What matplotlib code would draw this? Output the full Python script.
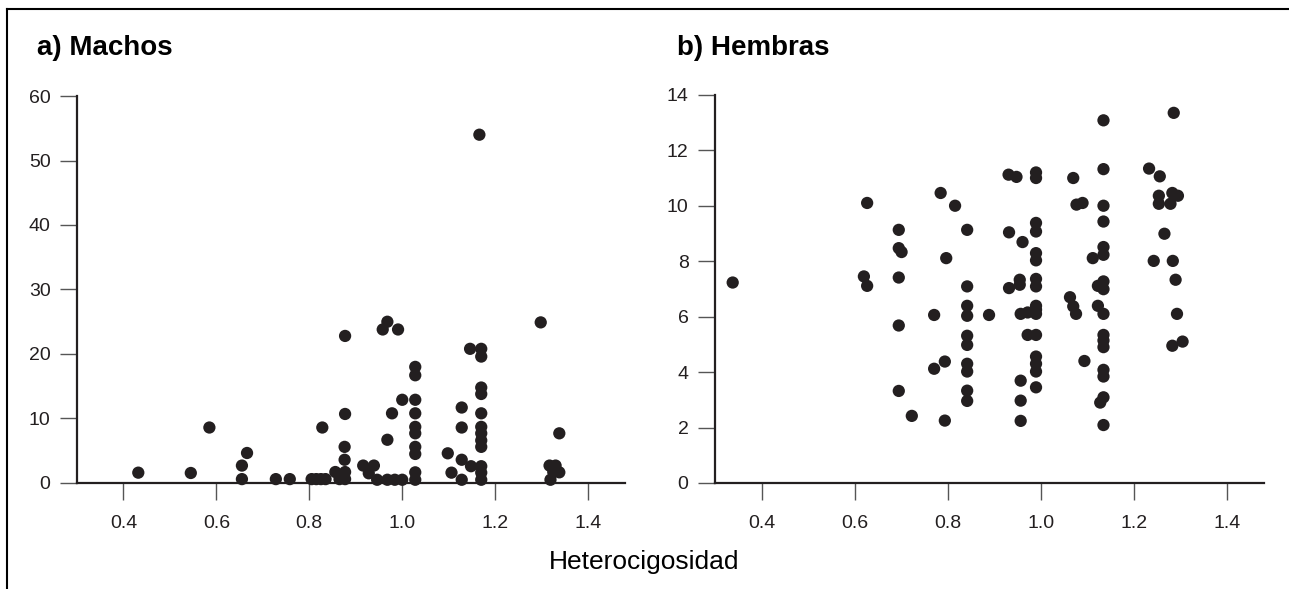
import matplotlib
matplotlib.use("Agg")
import matplotlib.pyplot as plt
from matplotlib.lines import Line2D

plt.rcParams['font.family'] = ['Liberation Sans', 'DejaVu Sans']

# a) Machos: heterocigosidad vs valor
machos_x = [0.432, 0.545, 0.585, 0.655, 0.655, 0.666, 0.728, 0.758,
            0.805, 0.815, 0.825, 0.835, 0.828, 0.856, 0.865, 0.877, 0.877,
            0.876, 0.876, 0.877, 0.877,
            0.916, 0.939, 0.928, 0.946, 0.968, 0.984, 1.000, 0.968, 0.978,
            1.000, 0.958, 0.968, 0.991,
            1.028, 1.028, 1.028, 1.028, 1.028, 1.028, 1.028, 1.028, 1.028, 1.028,
            1.098, 1.106, 1.128, 1.128, 1.128, 1.128, 1.148, 1.146,
            1.170, 1.170, 1.170, 1.170, 1.170, 1.170, 1.170, 1.170, 1.170,
            1.170, 1.170, 1.170, 1.166,
            1.298, 1.338, 1.317, 1.330, 1.338, 1.325, 1.319]
machos_y = [1.6, 1.55, 8.6, 0.6, 2.7, 4.65, 0.6, 0.6,
            0.6, 0.6, 0.6, 0.6, 8.6, 1.7, 0.6, 1.7, 0.6,
            3.6, 5.6, 10.7, 22.8,
            2.7, 2.7, 1.5, 0.5, 0.5, 0.5, 0.5, 6.7, 10.8,
            12.9, 23.8, 25.0, 23.8,
            18.0, 16.7, 12.9, 10.8, 8.7, 7.7, 5.6, 4.5, 1.65, 0.5,
            4.6, 1.6, 11.7, 8.6, 3.6, 0.5, 2.6, 20.8,
            20.8, 19.6, 14.8, 13.8, 10.8, 8.7, 7.7, 6.6, 5.6,
            2.6, 1.6, 0.5, 54.0,
            24.9, 7.7, 2.7, 2.7, 1.65, 1.7, 0.5]

# b) Hembras
hembras_x = [0.338, 0.627, 0.620, 0.627,
             0.695, 0.695, 0.701, 0.695, 0.695, 0.695, 0.723,
             0.785, 0.816, 0.797, 0.771, 0.771, 0.794, 0.794,
             0.842, 0.842, 0.842, 0.842, 0.842, 0.842, 0.842, 0.842, 0.842, 0.842,
             0.889,
             0.931, 0.948, 0.932, 0.932, 0.961, 0.955, 0.955, 0.957, 0.972,
             0.972, 0.957, 0.957, 0.957,
             0.990, 0.990, 0.990, 0.990, 0.990, 0.990, 0.990, 0.990, 0.990,
             0.990, 0.990, 0.990, 0.990, 0.990, 0.990, 0.990,
             1.070, 1.077, 1.090, 1.063, 1.070, 1.076, 1.094,
             1.135, 1.135, 1.135, 1.135, 1.135, 1.135, 1.112, 1.123, 1.135, 1.135,
             1.123, 1.135, 1.135, 1.135, 1.135, 1.135, 1.135, 1.135, 1.128, 1.135,
             1.233, 1.256, 1.254, 1.254, 1.279, 1.283, 1.295, 1.286, 1.266,
             1.243, 1.284, 1.290, 1.293, 1.283, 1.305]
hembras_y = [7.23, 10.1, 7.45, 7.11,
             9.13, 8.47, 8.33, 7.41, 5.68, 3.32, 2.42,
             10.46, 10.0, 8.11, 6.06, 4.12, 4.38, 2.25,
             9.13, 7.09, 6.39, 6.03, 5.31, 4.98, 4.30, 4.02, 3.33, 2.96,
             6.06,
             11.12, 11.04, 9.04, 7.03, 8.69, 7.33, 7.15, 6.10, 6.15,
             5.34, 3.69, 2.97, 2.24,
             11.2, 11.0, 9.38, 9.07, 8.29, 8.03, 7.36, 7.09, 6.39,
             6.10, 5.34, 4.56, 4.30, 4.02, 3.45, 6.25,
             11.0, 10.04, 10.1, 6.70, 6.37, 6.10, 4.40,
             13.08, 11.32, 10.0, 9.43, 8.51, 8.23, 8.11, 7.11, 7.27, 6.99,
             6.39, 6.10, 5.34, 5.14, 4.90, 4.08, 3.84, 3.09, 2.90, 2.09,
             11.34, 11.06, 10.36, 10.07, 10.07, 10.46, 10.36, 13.35, 8.99,
             8.01, 8.01, 7.33, 6.1, 4.95, 5.10]

x_ticks = [0.4, 0.6, 0.8, 1.0, 1.2, 1.4]
x_labels = ['0.4', '0.6', '0.8', '1.0', '1.2', '1.4']
machos_yticks = [0, 10, 20, 30, 40, 50, 60]
hembras_yticks = [0, 2, 4, 6, 8, 10, 12, 14]

dot = '#231f20'

fig = plt.figure(figsize=(12.89, 5.89), dpi=100)
ax1 = fig.add_axes([0.0597, 0.180, 0.4254, 0.657])
ax2 = fig.add_axes([0.5547, 0.180, 0.4259, 0.659])


def style(ax, yticks, ylim):
    ax.set_xlim(0.3, 1.48)
    ax.set_ylim(*ylim)
    ax.spines['top'].set_visible(False)
    ax.spines['right'].set_visible(False)
    for s in ('left', 'bottom'):
        ax.spines[s].set_linewidth(1.6)
        ax.spines[s].set_color('#231f20')
    ax.set_xticks(x_ticks)
    ax.set_xticklabels(x_labels)
    ax.set_yticks(yticks)
    ax.tick_params(axis='both', direction='out', length=12, width=1.0,
                   color='#555555', labelsize=14, labelcolor='#231f20')
    ax.tick_params(axis='x', pad=11)
    ax.tick_params(axis='y', pad=7)


ax1.scatter(machos_x, machos_y, s=78, color=dot, edgecolors='none',
            clip_on=False, zorder=3)
style(ax1, machos_yticks, (0, 60))

ax2.scatter(hembras_x, hembras_y, s=78, color=dot, edgecolors='none',
            clip_on=False, zorder=3)
style(ax2, hembras_yticks, (0, 14))

fig.text(0.029, 0.918, 'a) Machos', fontsize=20, fontweight='bold',
         va='center', ha='left', color='black')
fig.text(0.525, 0.918, 'b) Hembras', fontsize=20, fontweight='bold',
         va='center', ha='left', color='black')
fig.text(0.500, 0.046, 'Heterocigosidad', fontsize=19, ha='center',
         va='center', color='black')

# partial frame round the figure (top and left edges)
fig.add_artist(Line2D([0.0055, 1.0], [0.985, 0.985], color='black', lw=1.5))
fig.add_artist(Line2D([0.0055, 0.0055], [0.0, 0.985], color='black', lw=1.5))

fig.savefig('out.png', dpi=100, facecolor='white')
